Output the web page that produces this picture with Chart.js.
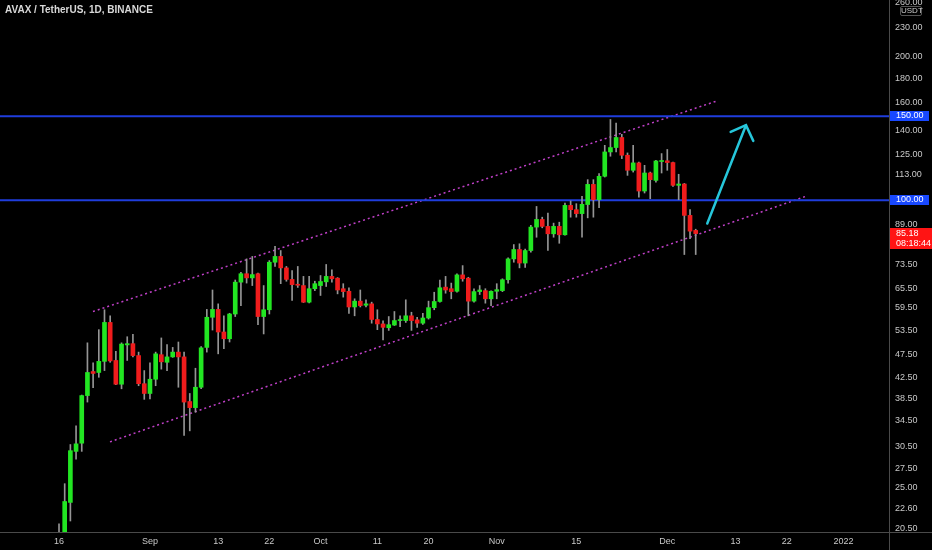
<!DOCTYPE html>
<html><head><meta charset="utf-8">
<script src="https://cdn.jsdelivr.net/npm/chart.js@4.4.0/dist/chart.umd.min.js"></script>
<style>
html,body{margin:0;padding:0;background:#000;overflow:hidden}
#wrap{position:relative;width:932px;height:550px;background:#000}
canvas{display:block}
#title{position:absolute;left:5px;top:4px;font:bold 10px 'Liberation Sans Narrow','Liberation Sans',sans-serif;color:#d8d8d8;white-space:nowrap}
#unit{position:absolute;left:900px;top:6px;width:20px;height:8px;border:1px solid #555;border-radius:2px;background:#000;color:#ccc;font:8px 'Liberation Sans Narrow','Liberation Sans',sans-serif;line-height:8px;text-align:center}
</style></head>
<body>
<div id="wrap">
<canvas id="c" width="932" height="550"></canvas>
<div id="title">AVAX / TetherUS, 1D, BINANCE</div>
<div id="unit">USDT</div>
</div>
<script>
// Daily candles starting 2021-08-16 (index 0 = Aug 16)
const open  = [18.6,19.9,23.3,29.8,31.0,39.0,43.8,43.6,46.0,55.5,46.2,41.2,49.8,50.1,47.3,41.3,39.4,42.2,47.5,45.8,47.0,48.1,47.0,37.9,36.8,40.6,49.2,56.9,59.1,53.0,51.3,57.8,67.4,70.2,68.8,70.2,57.1,59.0,74.2,76.3,72.2,68.3,66.7,66.3,61.2,65.3,66.3,67.5,69.3,68.7,65.3,64.5,59.8,61.5,60.3,60.7,56.3,55.1,54.1,54.8,56.0,56.0,57.3,56.2,55.3,56.7,59.6,61.4,65.8,65.3,64.5,69.8,68.7,61.5,64.4,64.7,62.2,64.5,64.7,68.2,75.4,78.9,73.9,78.5,87.9,91.2,88.2,85.1,88.2,84.7,97.6,95.6,93.8,98.0,108.0,100.3,112.3,126.3,129.0,135.4,124.3,115.6,119.8,104.6,114.1,110.1,120.6,121.0,120.0,107.5,108.2,93.0,86.5];
const high  = [21.0,25.5,30.8,33.7,39.1,50.3,45.7,53.6,59.0,57.3,48.3,50.3,51.8,52.4,48.1,44.0,45.7,48.1,51.5,49.9,49.2,50.5,48.1,39.4,44.5,49.4,59.1,64.9,60.7,57.3,58.0,68.1,70.7,75.4,76.3,70.4,66.3,74.8,80.1,78.5,72.7,71.3,72.7,69.3,69.3,67.7,69.6,73.4,71.5,68.9,66.9,65.6,62.2,64.9,61.9,61.2,59.0,55.9,57.1,58.5,57.3,61.9,58.3,56.9,58.0,61.5,64.2,68.1,69.3,67.1,70.2,73.0,69.0,65.3,66.3,65.3,64.6,66.9,68.5,75.8,80.8,81.1,79.1,88.6,97.1,92.2,94.0,89.6,90.0,98.7,99.7,98.4,102.0,110.5,110.5,113.8,130.4,147.7,145.2,137.5,125.7,130.4,120.3,118.4,114.6,121.3,125.3,127.8,120.3,113.4,108.5,95.6,87.0];
const low   = [18.2,19.5,21.3,28.7,29.8,37.8,40.5,42.6,44.0,45.8,41.1,40.3,46.2,47.0,40.9,38.3,38.4,40.9,44.3,44.0,46.9,40.6,32.2,32.9,36.0,40.3,48.1,53.5,47.7,48.9,50.5,57.1,60.2,67.1,66.3,54.9,52.5,57.8,72.7,66.9,67.7,61.7,65.7,61.1,61.0,64.7,63.2,66.0,67.4,63.7,62.7,58.0,57.3,59.8,59.8,55.3,53.6,51.0,53.4,54.7,54.4,55.5,53.4,54.2,55.0,56.4,59.0,61.2,63.9,62.2,64.2,67.7,57.3,61.2,63.5,60.9,60.2,62.2,64.4,67.1,74.2,72.2,72.4,77.9,83.7,87.6,78.5,83.7,81.3,84.5,92.2,92.2,83.7,91.9,92.2,96.5,111.9,123.7,126.3,122.3,112.8,114.6,101.6,103.6,100.8,109.2,114.1,115.6,107.0,100.3,77.0,83.1,77.0];
const close = [19.9,23.4,29.9,30.9,39.0,43.6,43.4,46.0,55.5,46.1,41.2,50.0,50.1,47.3,41.3,39.4,42.2,47.7,45.9,47.0,48.1,47.0,37.8,36.8,40.6,49.1,56.9,59.1,53.0,51.3,57.8,67.4,70.2,68.8,69.9,57.1,59.0,74.2,76.3,72.2,68.3,66.6,66.4,61.2,65.3,66.9,67.6,69.3,68.5,64.9,64.4,59.8,61.5,60.2,60.7,56.3,55.1,54.2,54.9,56.0,56.2,57.3,56.0,55.3,56.7,59.6,61.4,65.6,64.9,64.4,69.8,68.5,61.5,64.4,64.9,62.2,64.5,65.0,68.2,75.4,78.9,73.9,78.5,87.9,91.2,88.2,85.1,88.2,84.7,97.6,95.6,93.8,98.1,108.0,100.3,112.3,126.3,129.0,135.4,124.3,115.6,119.8,104.6,114.1,110.5,120.9,120.9,120.0,107.5,108.2,93.0,86.2,85.18];

// x-axis tick days (offset from Aug 16, 2021) and their labels
const tickDays   = [0,16,28,37,46,56,65,77,91,107,119,128,138];
const tickLabels = ['16','Sep','13','22','Oct','11','20','Nov','15','Dec','13','22','2022'];
// y-axis (price, log) tick values
const yTicks = [20.5,22.6,25,27.5,30.5,34.5,38.5,42.5,47.5,53.5,59.5,65.5,73.5,89,113,125,140,160,180,200,230,260];
// horizontal levels
const levels = [150,100];
// channel lines [day, price]
const upperChannel = [[5.98,58.5],[115.6,161.3]];
const lowerChannel = [[8.97,31.2],[131.4,102]];
// arrow [day, price]
const arrowShaft = [[114.03,89.4],[120.84,143.7]];
const arrowHead  = [[118.15,139.1],[120.84,143.7],[122.13,133.2]];
// price tags on the axis
const tagValues = [150,100,85.18];
const tagTexts  = [['150.00'],['100.00'],['85.18','08:18:44']];

const GREEN='#22e622', RED='#f01c1c', WICK='#959595';
const FONT="'Liberation Sans Narrow','Liberation Sans',sans-serif";
const X_MIN=-10.38, X_MAX=146.0;

const idx = close.map((_,i)=>i);
const wickData = idx.map(i=>({x:i,y:[low[i],high[i]]}));
const bodyData = idx.map(i=>({x:i,y:[open[i],close[i]]}));
const bodyColors = idx.map(i=> close[i]>=open[i]?GREEN:RED);
const pts = a=>a.map(p=>({x:p[0],y:p[1]}));

const datasets = [
  {type:'bar',data:bodyData,backgroundColor:bodyColors,barThickness:4,minBarLength:1,grouped:false,order:0,borderWidth:0},
  {type:'bar',data:wickData,backgroundColor:WICK,barThickness:1,grouped:false,order:1,borderWidth:0},
];
levels.forEach(v=>datasets.push({type:'line',data:[{x:X_MIN-2,y:v},{x:X_MAX+2,y:v}],borderColor:'#1f3ddc',borderWidth:2,pointRadius:0,fill:false,order:2}));
[upperChannel,lowerChannel].forEach(c=>datasets.push({type:'line',data:pts(c),borderColor:'#c040c8',borderWidth:1.5,borderDash:[2,3],pointRadius:0,fill:false,order:2}));
datasets.push({type:'line',data:pts(arrowShaft),borderColor:'#26c6da',borderWidth:2.5,pointRadius:0,fill:false,order:-1,borderCapStyle:'round'});
datasets.push({type:'line',data:pts(arrowHead),borderColor:'#26c6da',borderWidth:2.5,pointRadius:0,fill:false,order:-1,borderCapStyle:'round',borderJoinStyle:'miter',tension:0});

const tagPlugin = {
  id:'tags',
  afterDraw(chart){
    const ctx=chart.ctx, ys=chart.scales.y, a=chart.chartArea;
    ctx.save();
    // axis frame lines extending across the full canvas
    ctx.strokeStyle='#4a4a4a';
    ctx.lineWidth=1;
    ctx.beginPath();
    ctx.moveTo(0,Math.round(a.bottom)+0.5);ctx.lineTo(932,Math.round(a.bottom)+0.5);
    ctx.moveTo(Math.round(a.right)+0.5,0);ctx.lineTo(Math.round(a.right)+0.5,550);
    ctx.stroke();
    ctx.font='9px '+FONT;
    ctx.textBaseline='middle';
    ctx.textAlign='left';
    tagValues.forEach((v,i)=>{
      const y=Math.round(ys.getPixelForValue(v));
      const lines=tagTexts[i];
      if(lines.length===1){
        ctx.fillStyle='#1848ff';
        ctx.fillRect(890,y-5,39,10);
        ctx.fillStyle='#ffffff';
        ctx.fillText(lines[0],896,y);
      } else {
        ctx.fillStyle='#ff1414';
        ctx.fillRect(890,y-6,42,21);
        ctx.fillStyle='#ffffff';
        ctx.fillText(lines[0],896,y);
        ctx.fillText(lines[1],896,y+10);
      }
    });
    ctx.restore();
  }
};

new Chart(document.getElementById('c'),{
  data:{datasets},
  options:{
    responsive:false,animation:false,devicePixelRatio:1,
    layout:{padding:0},
    plugins:{legend:{display:false},tooltip:{enabled:false},title:{display:false}},
    events:[],
    scales:{
      x:{type:'linear',min:X_MIN,max:X_MAX,offset:false,
        grid:{display:false,drawTicks:false},
        border:{display:false},
        ticks:{color:'#c8c8c8',font:{size:9,family:FONT},padding:4,maxRotation:0,autoSkip:false,
          callback:(v,i)=>tickLabels[i]},
        afterBuildTicks:s=>{s.ticks=tickDays.map(v=>({value:v}));},
        afterFit:s=>{s.height=18;s.paddingLeft=0;s.paddingRight=0;}
      },
      y:{type:'logarithmic',position:'right',min:20.2,max:262.8,
        grid:{display:false,drawTicks:false},
        border:{display:false},
        ticks:{color:'#c8c8c8',font:{size:9,family:FONT},padding:6,autoSkip:false,
          callback:v=>Number(v).toFixed(2)},
        afterBuildTicks:s=>{s.ticks=yTicks.map(v=>({value:v}));},
        afterFit:s=>{s.width=43;s.paddingTop=0;s.paddingBottom=0;}
      }
    }
  },
  plugins:[tagPlugin]
});
</script>
</body></html>
